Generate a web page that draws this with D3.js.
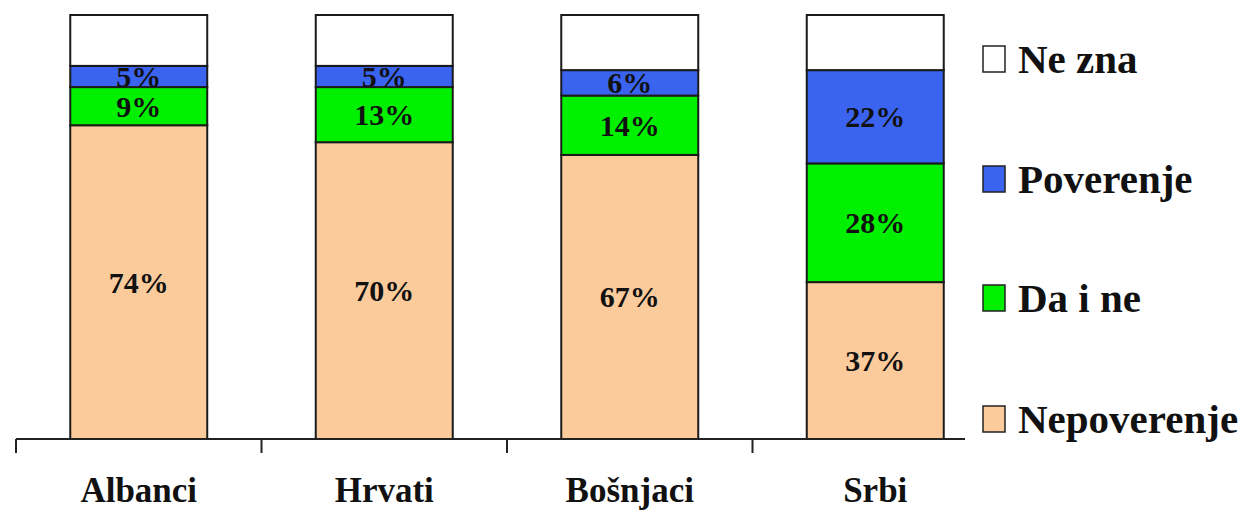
<!DOCTYPE html>
<html><head><meta charset="utf-8">
<script src="https://cdn.jsdelivr.net/npm/d3@7"></script>
<style>html,body{margin:0;padding:0;background:#fff;}svg{display:block;}</style>
</head><body>
<svg id="c" width="1245" height="512"></svg>
<script>
const categories = ["Albanci", "Hrvati", "Bošnjaci", "Srbi"];
const seriesNames = ["Nepoverenje", "Da i ne", "Poverenje", "Ne zna"];
const nepoverenje = [74, 70, 67, 37];
const daIne = [9, 13, 14, 28];
const poverenje = [5, 5, 6, 22];
const neZna = [12, 12, 13, 13];
const legendOrder = ["Ne zna", "Poverenje", "Da i ne", "Nepoverenje"];

const colors = {"Nepoverenje": "#FCCB9C", "Da i ne": "#00F000", "Poverenje": "#3A63F0", "Ne zna": "#FFFFFF"};
const seriesValues = {"Nepoverenje": nepoverenje, "Da i ne": daIne, "Poverenje": poverenje, "Ne zna": neZna};

const rows = categories.map((c, i) => {
  const r = {cat: c};
  seriesNames.forEach(s => r[s] = seriesValues[s][i]);
  return r;
});
const stacked = d3.stack().keys(seriesNames)(rows);

const svg = d3.select("#c");
const font = "'Liberation Serif','Times New Roman',serif";
const mLeft = 16, mRight = 998, mTop = 15, mBottom = 439;

const x = d3.scaleBand().domain(categories).range([mLeft, mRight]).paddingInner(0.442).paddingOuter(0.221);
const y = d3.scaleLinear().domain([0, 100]).range([mBottom, mTop]);

const g = svg.append("g");
stacked.forEach(layer => {
  g.selectAll(null).data(layer).enter().append("rect")
    .attr("x", d => x(d.data.cat))
    .attr("width", x.bandwidth())
    .attr("y", d => y(d[1]))
    .attr("height", d => y(d[0]) - y(d[1]))
    .attr("fill", colors[layer.key])
    .attr("stroke", "#1a1a1a")
    .attr("stroke-width", 2);
});
stacked.forEach(layer => {
  if (layer.key !== "Ne zna") {
    g.selectAll(null).data(layer).enter().append("text")
      .attr("x", d => x(d.data.cat) + x.bandwidth() / 2)
      .attr("y", d => (y(d[0]) + y(d[1])) / 2)
      .attr("dy", "0.35em")
      .attr("text-anchor", "middle")
      .attr("font-family", font)
      .attr("font-weight", "bold")
      .attr("font-size", 30)
      .attr("fill", "#111")
      .text(d => (d[1] - d[0]) + "%");
  }
});

// axis
const axisG = svg.append("g");
axisG.append("line").attr("x1", mLeft).attr("x2", 965).attr("y1", mBottom).attr("y2", mBottom)
  .attr("stroke", "#222").attr("stroke-width", 2);
categories.forEach((c, i) => {
  const tx = i === 0 ? mLeft : x(c) - (x.step() - x.bandwidth()) / 2;
  axisG.append("line").attr("x1", tx).attr("x2", tx).attr("y1", mBottom).attr("y2", mBottom + 14)
    .attr("stroke", "#222").attr("stroke-width", 2);
  axisG.append("text")
    .attr("x", x(c) + x.bandwidth() / 2).attr("y", 502)
    .attr("text-anchor", "middle")
    .attr("font-family", font).attr("font-weight", "bold").attr("font-size", 35)
    .attr("fill", "#111").text(c);
});

// legend
const legendY = [73, 193, 312, 433];
legendOrder.forEach((s, i) => {
  const lg = svg.append("g");
  lg.append("rect").attr("x", 983).attr("y", legendY[i] - 27).attr("width", 22).attr("height", 26)
    .attr("fill", colors[s]).attr("stroke", "#222").attr("stroke-width", 1.5);
  lg.append("text").attr("x", 1018).attr("y", legendY[i])
    .attr("font-family", font).attr("font-weight", "bold").attr("font-size", 41)
    .attr("fill", "#111").text(s);
});
</script>
</body></html>
